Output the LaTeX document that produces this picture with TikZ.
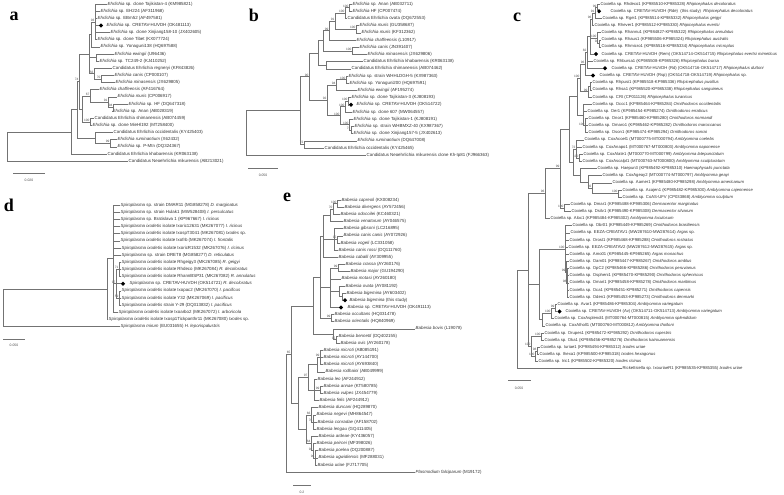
\documentclass[tikz,border=0pt]{standalone}
\usepackage{fontspec}
\setmainfont{Liberation Sans}
\newfontfamily\panelfont{Liberation Serif}
\usetikzlibrary{calc}
\usetikzlibrary{shapes.geometric}
\tikzstyle{leaf}=[anchor=west,inner sep=0.5pt,text height=3.2pt,text depth=1pt,font=\fontsize{4.4}{5}\selectfont,text=black!80]
\tikzstyle{cleaf}=[leaf,font=\fontsize{4.2}{5}\selectfont]
\tikzstyle{bs}=[anchor=south east,inner sep=0.3pt,font=\fontsize{3.2}{3.5}\selectfont,text=black!70]
\tikzstyle{branch}=[draw=black!55,line width=0.45pt]
\tikzstyle{gem}=[diamond,fill=black,inner sep=0pt,minimum size=4.4pt]
\tikzstyle{panel}=[font=\panelfont\bfseries\fontsize{18}{18}\selectfont]
\tikzstyle{barlabel}=[font=\fontsize{3.4}{4}\selectfont,text=black!70,inner sep=0.3pt]
\newcommand{\Ehr}{\textit{Ehrlichia}}
\newcommand{\Cox}{Coxiella sp.}
\newcommand{\Spi}{\textit{Spiroplasma}}
\newcommand{\Sxo}{\textit{Spiroplasma ixodetis}}
% clade: [bootstrap]{name}{x}{first}{last}{children}
\newcommand{\clade}[6][]{%
  \path ($(#4)!0.5!(#5)$) coordinate (#2m);
  \coordinate (#2) at (#3,0 |- #2m);
  \foreach \kid in {#6} {\draw[branch] (#2) |- (\kid);}
  \node[bs] (#2b) at (#2) {#1};}

\begin{document}
\begin{tikzpicture}[x=1pt,y=-1pt]
\path[use as bounding box,fill=white] (0,0) rectangle (784,495);

\node[panel] (pa) at (14,16) {a};
\node[panel] (pb) at (254,15) {b};
\node[panel] (pc) at (517,17) {c};
\node[panel] (pd) at (9,205) {d};
\node[panel] (pe) at (287,197) {e};

% a
\foreach \i/\x/\lab in {
 1/107/{\Ehr{} sp. clone Tajikistan-4 (KM985821)},
 2/100/{\Ehr{} sp. EH224 (AF311968)},
 3/97/{\Ehr{} sp. EBm52 (AF497581)},
 4/106/{\Ehr{} sp. CRETAV-HUVDH (OK481113)},
 5/110/{\Ehr{} sp. clone Xinjiang158-10 (JX402605)},
 6/97/{\Ehr{} sp. clone Tibet (KX077724)},
 7/100/{\Ehr{} sp. Yonaguni138 (HQ697588)},
 8/114/{\textit{Ehrlichia ewingii} (U96436)},
 9/99/{\Ehr{} sp. TC249-2 (KJ410252)},
 10/112/{Candidatus Ehrlichia regneryi (KF843826)},
 11/114/{\textit{Ehrlichia canis} (CP000107)},
 12/115/{\textit{Ehrlichia minasensis} (JX629805)},
 13/99/{\textit{Ehrlichia chaffeensis} (AF416764)},
 14/117/{\textit{Ehrlichia muris} (CP006917)},
 15/128/{\Ehr{} sp. HF (DQ647318)},
 16/112/{\Ehr{} sp. Anan (AB028319)},
 17/94/{Candidatus Ehrlichia shimanensis (AB074459)},
 18/92/{\Ehr{} sp. clone MieHl192 (MT258400)},
 19/113/{Candidatus Ehrlichia occidentalis (KY425403)},
 20/117/{\textit{Ehrlichia ruminantium} (X62432)},
 21/117/{\Ehr{} sp. P-Mtn (DQ324367)},
 22/107/{Candidatus Ehrlichia khabarensis (KR063138)},
 23/128/{Candidatus Neoehrlichia mikurensis (AB213021)}}
  {\node[leaf] (a\i) at (\x,{4+7.14*(\i-1)}) {\lab};}
\node[gem] (a4d) at (101,0 |- a4) {};

\clade[93]{A1}{95}{a1}{a6}{a1,a2,a3,a4d,a5,a6}
\clade{A2}{91}{A1}{a7}{A1,a7}
\clade{A3}{96}{a8}{a9}{a8,a9}
\clade[70]{A4}{101}{a11}{a12}{a11,a12}
\clade[56]{A5}{94}{a10}{A4}{a10,A4}
\clade{A6}{89}{A2}{A5}{A2,A3,A5}
\clade[94]{A7}{113}{a15}{a16}{a15,a16}
\clade[91]{A8}{108}{a14}{A7}{a14,A7}
\clade[67]{A9}{90}{a13}{A8}{a13,A8}
\clade[100]{A10}{90}{a17}{a18}{a17,a18}
\clade{A11}{82}{A9}{A10}{A9,A10}
\clade[74]{A12}{79}{A6}{A11}{A6,A11}
\clade[99]{A13}{110}{a20}{a21}{a20,a21}
\clade{A14}{95}{a19}{A13}{a19,A13}
\clade{A15}{77}{A12}{A14}{A12,A14}
\clade{A16}{71}{A15}{a22}{A15,a22}
\clade{A17}{7}{A16}{a23}{A16,a23}

\coordinate (sa1) at (13,173);
\coordinate (sa2) at (45,173);
\draw[branch] (sa1) -- (sa2);
\node[barlabel] (sal) at (29,180) {0.020};

% b
\foreach \i/\x/\lab in {
 1/352/{\Ehr{} sp. Anan (AB032711)},
 2/352/{\Ehr{} HF (CP007474)},
 3/347/{Candidatus Ehrlichia ovata (DQ672553)},
 4/359/{\textit{Ehrlichia muris} (GU358687)},
 5/361/{\textit{Ehrlichia muris} (KF312362)},
 6/356/{\textit{Ehrlichia chaffeensis} (L10917)},
 7/359/{\textit{Ehrlichia canis} (JN391407)},
 8/367/{\textit{Ehrlichia minasensis} (JX629806)},
 9/363/{Candidatus Ehrlichia khabarensis (KR063138)},
 10/351/{Candidatus Ehrlichia shimanensis (AB074462)},
 11/348/{\Ehr{} sp. strain WHHLDGH-5 (KX987363)},
 12/349/{\Ehr{} sp. Yonaguni200 (HQ697591)},
 13/357/{\textit{Ehrlichia ewingii} (AF195274)},
 14/351/{\Ehr{} sp. clone Tajikistan-3 (KJ808193)},
 15/356/{\Ehr{} sp. CRETAV-HUVDH (OK514722)},
 16/352/{\Ehr{} sp. clone 607 (MW064557)},
 17/353/{\Ehr{} sp. clone Tajikistan-1 (KJ808191)},
 18/354/{\Ehr{} sp. strain WHBMXZ-40 (KX987367)},
 19/353/{\Ehr{} sp. clone Xinjiang157-5 (JX402613)},
 20/357/{\textit{Ehrlichia ruminantium} (DQ647008)},
 21/324/{Candidatus Ehrlichia occidentalis (KY425465)},
 22/366/{Candidatus Neoehrlichia mikurensis clone Kh-Ip81 (FJ966363)}}
  {\node[leaf] (b\i) at (\x,{4+7.2*(\i-1)}) {\lab};}
\node[gem] (b15d) at (351,0 |- b15) {};

\clade[100]{B1}{349}{b1}{b2}{b1,b2}
\clade[100]{B2}{345}{B1}{b3}{B1,b3}
\clade[100]{B3}{356}{b4}{b5}{b4,b5}
\clade[91]{B4}{335}{B2}{B3}{B2,B3}
\clade[99]{B5}{329}{B4}{b6}{B4,b6}
\clade[100]{B6}{352}{b7}{b8}{b7,b8}
\clade{B7}{323}{B5}{B6}{B5,B6}
\clade{B8}{326}{b9}{b10}{b9,b10}
\clade[100]{B9}{346}{b11}{b12}{b11,b12}
\clade[94]{B10}{336}{B9}{b13}{B9,b13}
\clade[100]{B11}{348}{b14}{b15d}{b14,b15d}
\clade[100]{B12}{345}{B11}{b16}{B11,b16}
\clade[71]{B13}{351}{b18}{b19}{b18,b19}
\clade[100]{B14}{349}{b17}{B13}{b17,B13}
\clade[100]{B15}{340}{B12}{B14}{B12,B14}
\clade[92]{B16}{327}{B10}{B15}{B10,B15}
\clade{B17}{318}{B7}{B8}{B7,B8}
\clade[90]{B18}{309}{B17}{B16}{B17,B16}
\clade[72]{B19}{304}{b20}{b21}{b20,b21}
\clade{B20}{300}{B18}{B19}{B18,B19}
\clade{B21}{246}{B20}{b22}{B20,b22}

\coordinate (sb1) at (248,168);
\coordinate (sb2) at (278,168);
\draw[branch] (sb1) -- (sb2);
\node[barlabel] (sbl) at (263,175) {0.050};

% c
\foreach \i/\x/\lab in {
 1/600/{\Cox{} Rhdeco1 (KP985510-KP985328) \textit{Rhipicephalus decoloratus}},
 2/610/{\Cox{} CRETAV-HUVDH (Rde)\ \ (this study)\ \ \textit{Rhipicephalus decoloratus}},
 3/602/{\Cox{} Rgei1 (KP985514-KP985332) \textit{Rhipicephalus geigyi}},
 4/594/{\Cox{} Rhever1 (KP985512-KP985330) \textit{Rhipicephalus evertsi}},
 5/601/{\Cox{} Rhannu1 (KP984827-KP985322) \textit{Rhipicephalus annulatus}},
 6/601/{\Cox{} Rhaus1 (KP985506-KP985324) \textit{Rhipicephalus australis}},
 7/601/{\Cox{} Rhmicro1 (KP985516-KP985334) \textit{Rhipicephalus microplus}},
 8/601/{\Cox{} CRETAV-HUVDH (Rem) (OK514714-OK514715) \textit{Rhipicephalus evertsi mimeticus}},
 9/593/{\Cox{} Rhbursa1 (KP985508-KP985326) \textit{Rhipicephalus bursa}},
 10/611/{\Cox{} CRETAV-HUVDH (Rd) (OK514716-OK514717) \textit{Rhipicephalus duttoni}},
 11/599/{\Cox{} CRETAV-HUVDH (Rsp) (OK514718-OK514719) \textit{Rhipicephalus} sp.},
 12/592/{\Cox{} Rhpusi1 (KP985518-KP985336) \textit{Rhipicephalus pusillus}},
 13/592/{\Cox{} Rhsa1 (KP985520-KP985338) \textit{Rhipicephalus sanguineus}},
 14/592/{\Cox{} CRt (CP011126) \textit{Rhipicephalus turanicus}},
 15/592/{\Cox{} Occc1 (KP985464-KP985284) \textit{Ornithodoros occidentalis}},
 16/587/{\Cox{} Oer1 (KP985454-KP985274) \textit{Ornithodoros erraticus}},
 17/588/{\Cox{} Onor1 (KP985460-KP985280) \textit{Ornithodoros normandi}},
 18/588/{\Cox{} Omaro1 (KP985462-KP985282) \textit{Ornithodoros maroccanus}},
 19/588/{\Cox{} Oson1 (KP985474-KP985294) \textit{Ornithodoros sonrai}},
 20/584/{\Cox{} CoxAcoel1 (MT000775-MT000794) \textit{Amblyomma coelebs}},
 21/582/{\Cox{} CoxAnapo1 (MT000767-MT000803) \textit{Amblyomma naponense}},
 22/583/{\Cox{} CoxAlate1 (MT000770-MT000799) \textit{Amblyomma latepunctatum}},
 23/582/{\Cox{} CoxAscalpt1 (MT000763-MT000800) \textit{Amblyomma sculpturatum}},
 24/597/{\Cox{} Haepun3 (KP985492-KP985310) \textit{Haemaphysalis punctata}},
 25/602/{\Cox{} CoxAgeay2 (MT000774-MT000797) \textit{Amblyomma geayi}},
 26/612/{\Cox{} Aamer1 (KP985480-KP985298) \textit{Amblyomma americanum}},
 27/622/{\Cox{} Acajen1 (KP985482-KP985300) \textit{Amblyomma cajennense}},
 28/622/{\Cox{} CoAS-UFV (CP033868) \textit{Amblyomma sculptum}},
 29/570/{\Cox{} Dmar1 (KP985488-KP985306) \textit{Dermacentor marginatus}},
 30/571/{\Cox{} Dsilv1 (KP985490-KP985308) \textit{Dermacentor silvarum}},
 31/550/{\Cox{} Aloc1 (KP985484-KP985302) \textit{Amblyomma loculosum}},
 32/572/{\Cox{} Obr01 (KP985449-KP985269) \textit{Ornithodoros brasiliensis}},
 33/570/{\Cox{} EEZA-CREATAV1 (MW287610-MW287614) \textit{Argas} sp.},
 34/569/{\Cox{} Orost1 (KP985468-KP985288) \textit{Ornithodoros rostratus}},
 35/568/{\Cox{} EEZA-CREATAV2 (MW287612-MW287615) \textit{Argas} sp.},
 36/569/{\Cox{} Amo01 (KP985445-KP985265) \textit{Argas monachus}},
 37/569/{\Cox{} Oam01 (KP985447-KP985267) \textit{Ornithodoros amblus}},
 38/569/{\Cox{} OpC2 (KP985466-KP985286) \textit{Ornithodoros peruvianus}},
 39/569/{\Cox{} Ospheni1 (KP985470-KP985290) \textit{Ornithodoros spheniscus}},
 40/569/{\Cox{} Omari1 (KP985458-KP985278) \textit{Ornithodoros maritimus}},
 41/569/{\Cox{} Oca1 (KP985451-KP985271) \textit{Ornithodoros capensis}},
 42/569/{\Cox{} Oden1 (KP985453-KP985273) \textit{Ornithodoros denmarki}},
 43/557/{\Cox{} Avar1 (KP985486-KP985304) \textit{Amblyomma variegatum}},
 44/565/{\Cox{} CRETAV-HUVDH (Av) (OK514711-OK514713) \textit{Amblyomma variegatum}},
 45/554/{\Cox{} CoxAsplendi1 (MT000764-MT000815) \textit{Amblyomma splendidum}},
 46/545/{\Cox{} CoxAtholl1 (MT000760-MT000812) \textit{Amblyomma tholloni}},
 47/544/{\Cox{} Orupes1 (KP985472-KP985292) \textit{Ornithodoros rupestris}},
 48/544/{\Cox{} Oka1 (KP985456-KP985276) \textit{Ornithodoros kairouanensis}},
 49/540/{\Cox{} Iuriae1 (KP985494-KP985312) \textit{Ixodes uriae}},
 50/539/{\Cox{} Ihexa1 (KP985500-KP985318) \textit{Ixodes hexagonus}},
 51/538/{\Cox{} Iric1 (KP985502-KP985320) \textit{Ixodes ricinus}},
 52/622/{Rickettsiella sp. IxouriaeR1 (KP985535-KP985355) \textit{Ixodes uriae}}}
  {\node[cleaf] (c\i) at (\x,{4+7.15*(\i-1)}) {\lab};}
\node[gem] (c2d) at (599,0 |- c2) {};
\node[gem] (c8d) at (596,0 |- c8) {};
\node[gem] (c10d) at (605,0 |- c10) {};
\node[gem] (c11d) at (593,0 |- c11) {};
\node[gem] (c44d) at (559.5,0 |- c44) {};

\clade[99]{C1}{597}{c1}{c2d}{c1,c2d}
\clade[91]{C2}{595}{C1}{c3}{C1,c3}
\clade[96]{C3}{592}{C2}{c4}{C2,c4}
\clade[94]{C4}{599}{c6}{c7}{c6,c7}
\clade[100]{C5}{597}{c5}{C4}{c5,C4}
\clade{C6}{590}{C3}{c8d}{C3,C5,c8d}
\clade[82]{C7}{587}{C6}{c10d}{C6,c9,c10d}
\clade[96]{C8}{585}{C7}{c11d}{C7,c11d}
\clade{C9}{590}{c12}{c13}{c12,c13}
\clade[99]{C10}{588}{C9}{c14}{C9,c14}
\clade[100]{C11}{580}{C8}{C10}{C8,C10}
\clade[100]{C12}{585}{c17}{c19}{c17,c18,c19}
\clade{C13}{583}{c15}{C12}{c15,c16,C12}
\clade{C14}{577}{C11}{C13}{C11,C13}
\clade[100]{C15}{579}{c22}{c23}{c22,c23}
\clade[72]{C16}{576}{c20}{C15}{c20,c21,C15}
\clade[100]{C17}{618}{c27}{c28}{c27,c28}
\clade[92]{C18}{592}{c26}{C17}{c26,C17}
\clade{C19}{588}{c25}{C18}{c25,C18}
\clade{C20}{580}{c24}{C19}{c24,C19}
\clade{C21}{573}{C16}{C20}{C16,C20}
\clade{C22}{569}{C14}{C21}{C14,C21}
\clade[100]{C23}{564}{c29}{c30}{c29,c30}
\clade[99]{C24}{560}{C22}{C23}{C22,C23}
\clade[96]{C25}{545}{C24}{c31}{C24,c31}
\clade[98]{C26}{567}{c38}{c42}{c38,c39,c40,c41,c42}
\clade[99]{C27}{566}{c37}{C26}{c37,C26}
\clade[100]{C28}{565}{c32}{C27}{c32,c33,c34,c35,c36,C27}
\clade[99]{C29}{555}{c43}{c44d}{c43,c44d}
\clade[100]{C30}{551}{C29}{c45}{C29,c45}
\clade{C31}{542}{C30}{c46}{C30,c46}
\clade{C32}{539}{C28}{C31}{C28,C31}
\clade[100]{C33}{541}{c47}{c48}{c47,c48}
\clade[98]{C34}{537}{c49}{c50}{c49,c50}
\clade[100]{C35}{535}{C34}{c51}{C34,c51}
\clade[100]{C36}{531}{C33}{C35}{C33,C35}
\clade{C37}{528}{C25}{C36}{C25,C32,C36}
\clade{C38}{517}{C37}{c52}{C37,c52}

\coordinate (sc1) at (508,380);
\coordinate (sc2) at (531,380);
\draw[branch] (sc1) -- (sc2);
\node[barlabel] (scl) at (519,388) {0.050};

% d
\foreach \i/\x/\lab in {
 1/120/{\Spi{} sp. strain DMAR11 (MG858278) \textit{D. marginatus}},
 2/120/{\Spi{} sp. strain Hulak1 (MW528408) \textit{I. persulcatus}},
 3/120/{\Spi{} sp. Bratislava 1 (KP967667) \textit{I. ricinus}},
 4/120/{\Sxo{} isolate Ixoric12631 (MK267077) \textit{I. ricinus}},
 5/120/{\Sxo{} isolate IxospT3041 (MK267081) \textit{Ixodes} sp.},
 6/120/{\Sxo{} isolate Ixofrb (MK267074) \textit{I. frontalis}},
 7/121/{\Sxo{} isolate IxoricR1532 (MK267076) \textit{I. ricinus}},
 8/121/{\Spi{} sp. strain DRET8 (MG858277) \textit{D. reticulatus}},
 9/121/{\Sxo{} isolate Rhgeigy3 (MK267085) \textit{R. geigyi}},
 10/121/{\Sxo{} isolate Rhdeco (MK267084) \textit{R. decoloratus}},
 11/121/{\Sxo{} isolate RhannBSP31 (MK267082) \textit{R. annulatus}},
 12/129/{\Spi{} sp. CRETAV-HUVDH (OK514721) \textit{R. decoloratus}},
 13/121/{\Sxo{} isolate Ixopac2 (MK267070) \textit{I. pacificus}},
 14/121/{\Sxo{} isolate Y32 (MK267069) \textit{I. pacificus}},
 15/121/{\Sxo{} strain Y-29 (DQ313832) \textit{I. pacificus}},
 16/118/{\Sxo{} isolate Ixoarbo2 (MK267072) \textit{I. arboricola}},
 17/108/{\Sxo{} isolate Ixosp1Tickpanthr11 (MK267080) \textit{Ixodes} sp.},
 18/120/{\textit{Spiroplasma mirum} (EU031655) \textit{H. leporispalustris}}}
  {\node[leaf] (d\i) at (\x,{205+7.15*(\i-1)}) {\lab};}
\node[gem] (d12d) at (123,0 |- d12) {};

\clade[59]{D1}{119}{d13}{d15}{d13,d14,d15}
\clade[71]{D2}{119}{d9}{d11}{d9,d10,d11}
\clade[97]{D3}{116}{D2}{D1}{D2,d12d,D1}
\clade{D4}{113}{d1}{d16}{d1,d2,d3,d4,d5,d6,d7,d8,D3,d16}
\clade{D5}{107}{D4}{d17}{D4,d17}
\clade{D6}{3}{D5}{d18}{D5,d18}

\coordinate (sd1) at (3,339);
\coordinate (sd2) at (25,339);
\draw[branch] (sd1) -- (sd2);
\node[barlabel] (sdl) at (14,345) {0.050};

% e
\foreach \i/\x/\lab in {
 1/341/{\textit{Babesia capreoli} (KX008234)},
 2/344/{\textit{Babesia divergens} (AY572456)},
 3/340/{\textit{Babesia odocoilei} (KC460321)},
 4/343/{\textit{Babesia venatorum} (AY046575)},
 5/343/{\textit{Babesia gibsoni} (LC216895)},
 6/343/{\textit{Babesia canis canis} (AY072926)},
 7/340/{\textit{Babesia vogeli} (LC331058)},
 8/338/{\textit{Babesia canis rossi} (DQ111760)},
 9/338/{\textit{Babesia caballi} (AY309955)},
 10/345/{\textit{Babesia crassa} (AY260176)},
 11/350/{\textit{Babesia major} (GU194290)},
 12/341/{\textit{Babesia motasi} (AY260180)},
 13/345/{\textit{Babesia ovata} (AY081192)},
 14/346/{\textit{Babesia bigemina} (AY603402)},
 15/349/{\textit{Babesia bigemina} (this study)},
 16/347/{\textit{Babesia} sp. CRETAV-HUVDH (OK491113)},
 17/334/{\textit{Babesia occultans} (HQ331478)},
 18/334/{\textit{Babesia orientalis} (HQ840969)},
 19/415/{\textit{Babesia bovis} (L19078)},
 20/338/{\textit{Babesia bennetti} (DQ402155)},
 21/340/{\textit{Babesia ovis} (AY260178)},
 22/323/{\textit{Babesia microti} (AB085191)},
 23/323/{\textit{Babesia microti} (AY144700)},
 24/323/{\textit{Babesia microti} (AY693840)},
 25/325/{\textit{Babesia rodhaini} (AB049999)},
 26/317/{\textit{Babesia leo} (AF244912)},
 27/323/{\textit{Babesia annae} (KT580785)},
 28/323/{\textit{Babesia vulpes} (JX454779)},
 29/319/{\textit{Babesia felis} (AF244912)},
 30/318/{\textit{Babesia duncani} (HQ289870)},
 31/316/{\textit{Babesia negevi} (MH864547)},
 32/317/{\textit{Babesia conradae} (AF158702)},
 33/316/{\textit{Babesia lengau} (GQ411405)},
 34/318/{\textit{Babesia ardeae} (KY436057)},
 35/316/{\textit{Babesia peircei} (MF398026)},
 36/318/{\textit{Babesia poelea} (DQ200887)},
 37/318/{\textit{Babesia ugwidiensis} (MF288031)},
 38/317/{\textit{Babesia uriae} (FJ717705)},
 39/415/{\textit{Plasmodium falciparum} (M19172)}}
  {\node[leaf] (e\i) at (\x,{200+7.16*(\i-1)}) {\lab};}
\node[gem] (e15d) at (345,0 |- e15) {};
\node[gem] (e16d) at (341,0 |- e16) {};

\clade[100]{E1}{337}{e1}{e2}{e1,e2}
\clade[70]{E2}{333}{E1}{e3}{E1,e3}
\clade{E3}{330}{E2}{e4}{E2,e4}
\clade[95]{E4}{337}{e6}{e7}{e6,e7}
\clade{E5}{334}{e5}{e8}{e5,E4,e8}
\clade{E6}{323}{E3}{e9}{E3,E5,e9}
\clade[99]{E7}{338}{e10}{e11}{e10,e11}
\clade{E8}{342}{e14}{e15d}{e14,e15d}
\clade{E9}{339}{e13}{E8}{e13,E8}
\clade{E10}{330}{E7}{e16d}{E7,e12,E9,e16d}
\clade[99]{E11}{331}{e17}{e18}{e17,e18}
\clade{E12}{320}{E6}{E11}{E6,E10,E11}
\clade[95]{E13}{336}{e20}{e21}{e20,e21}
\clade{E14}{333}{e19}{E13}{e19,E13}
\clade{E15}{313}{E12}{E14}{E12,E14}
\clade[99]{E16}{320}{e22}{e24}{e22,e23,e24}
\clade{E17}{317}{E16}{e25}{E16,e25}
\clade[99]{E18}{320}{e27}{e28}{e27,e28}
\clade{E19}{314}{e26}{e29}{e26,E18,e29}
\clade[97]{E20}{308}{E17}{E19}{E17,E19}
\clade[76]{E21}{313}{e31}{e33}{e31,e32,e33}
\clade[66]{E22}{311}{e30}{E21}{e30,E21}
\clade[96]{E23}{315}{e36}{e38}{e36,e37,e38}
\clade[92]{E24}{313}{e35}{E23}{e35,E23}
\clade[64]{E25}{311}{e34}{E24}{e34,E24}
\clade{E26}{306}{E22}{E25}{E22,E25}
\clade{E27}{298}{E20}{E26}{E20,E26}
\clade[65]{E28}{291}{E15}{E27}{E15,E27}
\clade{E29}{286}{E28}{e39}{E28,e39}

\coordinate (se1) at (293,485);
\coordinate (se2) at (311,485);
\draw[branch] (se1) -- (se2);
\node[barlabel] (sel) at (302,492) {0.2};
\end{tikzpicture}
\end{document}
